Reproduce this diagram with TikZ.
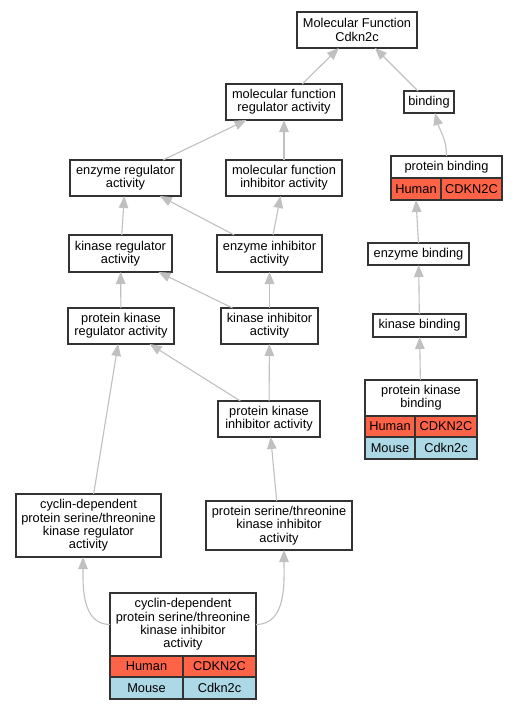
\documentclass[tikz,border=0pt]{standalone}
\usepackage{fontspec}
\setmainfont{Liberation Sans}
\usetikzlibrary{arrows.meta}
\definecolor{edgegray}{HTML}{C0C0C0}
\definecolor{human}{HTML}{FF6347}
\definecolor{mouse}{HTML}{ADD8E6}
\definecolor{border}{HTML}{333333}
\begin{document}
\begin{tikzpicture}[x=1pt,y=-1pt,
 box/.style={draw=border, line width=1.4pt, fill=white, inner sep=0pt, outer sep=0pt, align=center, font=\fontsize{12.8}{13.3}\selectfont},
 hum/.style={box, fill=human},
 mou/.style={box, fill=mouse},
 hole/.style={inner sep=0pt, outer sep=0pt},
 edge/.style={draw=edgegray, line width=1.1pt, -{Triangle[length=12pt,width=9.5pt]}},
]
\fill[white] (0,0) rectangle (519,709);
\useasboundingbox (0,0) rectangle (519,709);

% plain nodes
\node[box, minimum width=120, minimum height=36] (mf) at (357,30) {Molecular Function\\Cdkn2c};
\node[box, minimum width=116, minimum height=36] (mfra) at (284,102) {molecular function\\regulator activity};
\node[box, minimum width=50, minimum height=22] (binding) at (429,102) {binding};
\node[box, minimum width=111, minimum height=36] (era) at (125.5,178) {enzyme regulator\\activity};
\node[box, minimum width=116, minimum height=36] (mfia) at (284,178) {molecular function\\inhibitor activity};
\node[box, minimum width=103, minimum height=37] (kra) at (120.5,253.5) {kinase regulator\\activity};
\node[box, minimum width=105, minimum height=37] (eia) at (269.5,253.5) {enzyme inhibitor\\activity};
\node[box, minimum width=101, minimum height=22] (eb) at (418.5,254) {enzyme binding};
\node[box, minimum width=106, minimum height=36] (pkra) at (121,326) {protein kinase\\regulator activity};
\node[box, minimum width=97, minimum height=36] (kia) at (269.5,326) {kinase inhibitor\\activity};
\node[box, minimum width=93, minimum height=23] (kb) at (419.5,325.5) {kinase binding};
\node[box, minimum width=102, minimum height=36] (pkia) at (269,419) {protein kinase\\inhibitor activity};
\node[box, minimum width=145, minimum height=63] (cdkreg) at (88.5,525.5) {cyclin-dependent\\protein serine/threonine\\kinase regulator\\activity};
\node[box, minimum width=146, minimum height=49] (psti) at (279,525.5) {protein serine/threonine\\kinase inhibitor\\activity};

% protein binding table
\node[hole, minimum width=111, minimum height=44] (pb) at (446.5,178) {};
\node[box, minimum width=111, minimum height=22] (pbt) at (446.5,167) {protein binding};
\node[hum, minimum width=50, minimum height=22] (pbh1) at (416,189) {Human};
\node[hum, minimum width=61, minimum height=22] (pbh2) at (471.5,189) {CDKN2C};

% protein kinase binding table
\node[hole, minimum width=112, minimum height=79] (pkb) at (421,419.5) {};
\node[box, minimum width=112, minimum height=36] (pkbt) at (421,398) {protein kinase\\binding};
\node[hum, minimum width=50, minimum height=21] (pkbh1) at (390,426.5) {Human};
\node[hum, minimum width=62, minimum height=21] (pkbh2) at (446,426.5) {CDKN2C};
\node[mou, minimum width=50, minimum height=22] (pkbm1) at (390,448) {Mouse};
\node[mou, minimum width=62, minimum height=22] (pkbm2) at (446,448) {Cdkn2c};

% cyclin-dependent inhibitor table
\node[hole, minimum width=146, minimum height=106] (cdkinh) at (183,646) {};
\node[box, minimum width=146, minimum height=63] (cdkinht) at (183,624.5) {cyclin-dependent\\protein serine/threonine\\kinase inhibitor\\activity};
\node[hum, minimum width=73, minimum height=21] (cdkh1) at (146.5,666.5) {Human};
\node[hum, minimum width=73, minimum height=21] (cdkh2) at (219.5,666.5) {CDKN2C};
\node[mou, minimum width=73, minimum height=22] (cdkm1) at (146.5,688) {Mouse};
\node[mou, minimum width=73, minimum height=22] (cdkm2) at (219.5,688) {Cdkn2c};

% edges
\draw[edge] (mfra) -- (mf);
\draw[edge] (binding) -- (mf);
\draw[edge] (era) -- (mfra);
\draw[edge] (mfia) -- (mfra);
\draw[edge] (pbt.north) to[out=90,in=-75] ([xshift=6pt]binding.south);
\draw[edge] (kra) -- (era);
\draw[edge] (eia) -- (era);
\draw[edge] (eia) -- (mfia);
\draw[edge] (eb.north) -- ([xshift=-30.5pt]pb.south);
\draw[edge] (pkra) -- (kra);
\draw[edge] (kia) -- (kra);
\draw[edge] (kia) -- (eia);
\draw[edge] (kb) -- (eb);
\draw[edge] (pkia) -- (pkra);
\draw[edge] (pkia) -- (kia);
\draw[edge] (pkb) -- (kb);
\draw[edge] (cdkreg) -- (pkra);
\draw[edge] (psti) -- (pkia);
\draw[edge] (cdkinht.west) to[out=180,in=-90] ([xshift=-5.5pt]cdkreg.south);
\draw[edge] (cdkinht.east) to[out=0,in=-90] ([xshift=5pt]psti.south);
\end{tikzpicture}
\end{document}
